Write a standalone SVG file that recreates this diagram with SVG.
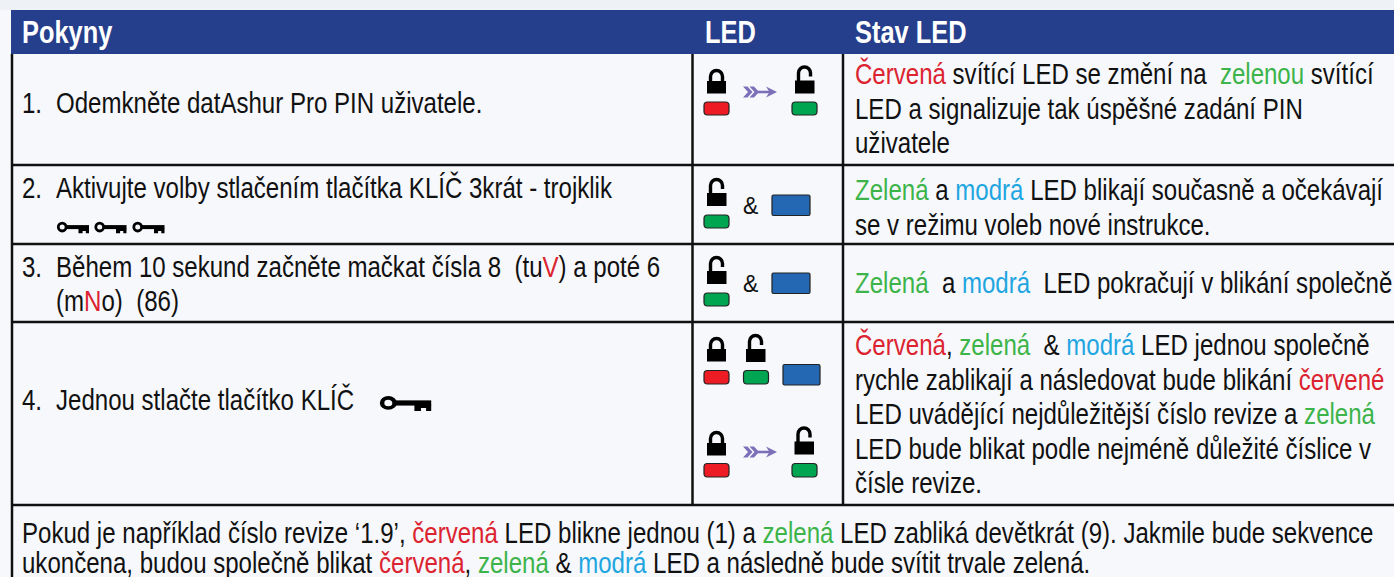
<svg xmlns="http://www.w3.org/2000/svg" xmlns:xlink="http://www.w3.org/1999/xlink" width="1394" height="577" viewBox="0 0 1394 577">
<style>
.t{font-family:"Liberation Sans",Arial,sans-serif;font-size:29px;fill:#111}
.h{font-family:"Liberation Sans",Arial,sans-serif;font-weight:bold;font-size:31px;fill:#fff}
.amp{font-family:"Liberation Sans",Arial,sans-serif;font-size:23px;fill:#111}
.r{fill:#DC2330}.g{fill:#3CB44A}.b{fill:#1FA6E0}
.ln{stroke:#111;stroke-width:2.5;fill:none}
.pr{fill:#ED1C24;stroke:#222;stroke-width:1.2}
.pg{fill:#00A551;stroke:#222;stroke-width:1.2}
.pb{fill:#2468B4;stroke:#222;stroke-width:1.2}
</style>
<defs>
<g id="lockClosed"><rect x="0" y="0" width="19" height="12.5" fill="#000"/><path d="M3.5 1V-4.5A6 6 0 0 1 15.5 -4.5V1" fill="none" stroke="#000" stroke-width="3.4"/></g>
<g id="lockOpen"><rect x="0" y="0" width="19.5" height="13" fill="#000"/><path d="M3.5 1V-7.5A6 6 0 0 1 15.5 -7.5V-4" fill="none" stroke="#000" stroke-width="3.4"/></g>
<g id="arrow" fill="#7D70B8"><polygon points="0,-5.5 4.5,-5.5 9.5,0 4.5,5.5 0,5.5 5,0"/><polygon points="6.5,-5.5 11,-5.5 16,0 11,5.5 6.5,5.5 11.5,0"/><rect x="13" y="-1.3" width="14" height="2.6"/><polygon points="34,0 23,-5.5 26.5,0 23,5.5"/></g>
<g id="key"><circle cx="5.2" cy="4.6" r="3.9" fill="none" stroke="#000" stroke-width="2.8"/><rect x="9" y="2.6" width="23" height="4" fill="#000"/><path d="M21.5 6h10.5v4.8h-3.2v-2.4h-3.2v2.4h-4.1z" fill="#000"/></g>
</defs>
<rect x="0" y="0" width="1394" height="577" fill="#F6F8FC"/>
<rect x="0" y="0" width="1394" height="10" fill="#EEF1F6"/>

<g id="header">
<rect x="11" y="10" width="1383" height="44" fill="#263F8C"/>
<text class="h" transform="translate(22,43) scale(0.82,1)">Pokyny</text>
<text class="h" transform="translate(705,43) scale(0.82,1)">LED</text>
<text class="h" transform="translate(855,43) scale(0.82,1)">Stav LED</text>
</g>

<g id="table-lines">
<line class="ln" x1="12" y1="54" x2="12" y2="577"/>
<line class="ln" x1="692.5" y1="54" x2="692.5" y2="505"/>
<line class="ln" x1="843" y1="54" x2="843" y2="505"/>
<line class="ln" x1="11" y1="165" x2="1394" y2="165"/>
<line class="ln" x1="11" y1="244" x2="1394" y2="244"/>
<line class="ln" x1="11" y1="322" x2="1394" y2="322"/>
<line class="ln" x1="11" y1="505" x2="1394" y2="505"/>
</g>

<g id="row1">
<text class="t" transform="translate(22,113) scale(0.83,1)">1.</text>
<text class="t" transform="translate(56,113) scale(0.83,1)">Odemkněte datAshur Pro PIN uživatele.</text>
<use xlink:href="#lockClosed" x="707" y="81"/>
<rect class="pr" x="704" y="102" width="25" height="13" rx="3.5"/>
<use xlink:href="#arrow" x="743" y="92"/>
<use xlink:href="#lockOpen" x="795" y="80.5"/>
<rect class="pg" x="792" y="102" width="25" height="13" rx="3.5"/>
<text class="t" xml:space="preserve" transform="translate(855,84) scale(0.83,1)"><tspan class="r">Červená</tspan> svítící LED se změní na  <tspan class="g">zelenou</tspan> svítící</text>
<text class="t" transform="translate(855,119) scale(0.83,1)">LED a signalizuje tak úspěšné zadání PIN</text>
<text class="t" transform="translate(855,153) scale(0.83,1)">uživatele</text>
</g>

<g id="row2">
<text class="t" transform="translate(22,198) scale(0.83,1)">2.</text>
<text class="t" transform="translate(56,198) scale(0.83,1)">Aktivujte volby stlačením tlačítka KLÍČ 3krát - trojklik</text>
<use xlink:href="#key" x="57" y="222.5"/>
<use xlink:href="#key" x="94.5" y="222.5"/>
<use xlink:href="#key" x="132.5" y="222.5"/>
<use xlink:href="#lockOpen" x="707" y="193"/>
<rect class="pg" x="704" y="215" width="25" height="13" rx="3.5"/>
<text class="amp" x="743" y="214">&amp;</text>
<rect class="pb" x="772" y="195" width="38" height="20.5" rx="1.5"/>
<text class="t" transform="translate(855,200) scale(0.83,1)"><tspan class="g">Zelená</tspan> a <tspan class="b">modrá</tspan> LED blikají současně a očekávají</text>
<text class="t" transform="translate(855,235) scale(0.83,1)">se v režimu voleb nové instrukce.</text>
</g>

<g id="row3">
<text class="t" transform="translate(22,277) scale(0.83,1)">3.</text>
<text class="t" xml:space="preserve" transform="translate(56,277) scale(0.83,1)">Během 10 sekund začněte mačkat čísla 8  (tu<tspan class="r">V</tspan>) a poté 6</text>
<text class="t" xml:space="preserve" transform="translate(56,311) scale(0.83,1)">(m<tspan class="r">N</tspan>o)  (86)</text>
<use xlink:href="#lockOpen" x="707" y="271"/>
<rect class="pg" x="704" y="293" width="25" height="13" rx="3.5"/>
<text class="amp" x="743" y="292">&amp;</text>
<rect class="pb" x="772" y="273" width="38" height="20.5" rx="1.5"/>
<text class="t" xml:space="preserve" transform="translate(855,293) scale(0.83,1)"><tspan class="g">Zelená</tspan>  a <tspan class="b">modrá</tspan>  LED pokračují v blikání společně</text>
</g>

<g id="row4">
<text class="t" transform="translate(22,410) scale(0.83,1)">4.</text>
<text class="t" transform="translate(56,410) scale(0.83,1)">Jednou stlačte tlačítko KLÍČ</text>
<use xlink:href="#key" transform="translate(380,397) scale(1.6,1.3)"/>
<use xlink:href="#lockClosed" x="707" y="349"/>
<rect class="pr" x="704" y="370.5" width="25" height="13.5" rx="3.5"/>
<use xlink:href="#lockOpen" x="746" y="349"/>
<rect class="pg" x="743.5" y="370.5" width="25" height="13.5" rx="3.5"/>
<rect class="pb" x="783" y="364.5" width="37" height="20.5" rx="1.5"/>
<use xlink:href="#lockClosed" x="707" y="443"/>
<rect class="pr" x="704" y="463.5" width="25" height="13.5" rx="3.5"/>
<use xlink:href="#arrow" x="743" y="452"/>
<use xlink:href="#lockOpen" x="794.5" y="441.5"/>
<rect class="pg" x="792" y="463.5" width="25" height="13.5" rx="3.5"/>
<text class="t" xml:space="preserve" transform="translate(855,355) scale(0.83,1)"><tspan class="r">Červená</tspan>, <tspan class="g">zelená</tspan>  &amp; <tspan class="b">modrá</tspan> LED jednou společně</text>
<text class="t" transform="translate(855,389.5) scale(0.83,1)">rychle zablikají a následovat bude blikání <tspan class="r">červené</tspan></text>
<text class="t" transform="translate(855,424) scale(0.83,1)">LED uvádějící nejdůležitější číslo revize a <tspan class="g">zelená</tspan></text>
<text class="t" transform="translate(855,458.5) scale(0.83,1)">LED bude blikat podle nejméně důležité číslice v</text>
<text class="t" transform="translate(855,493) scale(0.83,1)">čísle revize.</text>
</g>

<g id="row5">
<text class="t" transform="translate(22,543) scale(0.83,1)">Pokud je například číslo revize ‘1.9’, <tspan class="r">červená</tspan> LED blikne jednou (1) a <tspan class="g">zelená</tspan> LED zabliká devětkrát (9). Jakmile bude sekvence</text>
<text class="t" transform="translate(22,573) scale(0.83,1)">ukončena, budou společně blikat <tspan class="r">červená</tspan>, <tspan class="g">zelená</tspan> &amp; <tspan class="b">modrá</tspan> LED a následně bude svítit trvale zelená.</text>
</g>
</svg>
